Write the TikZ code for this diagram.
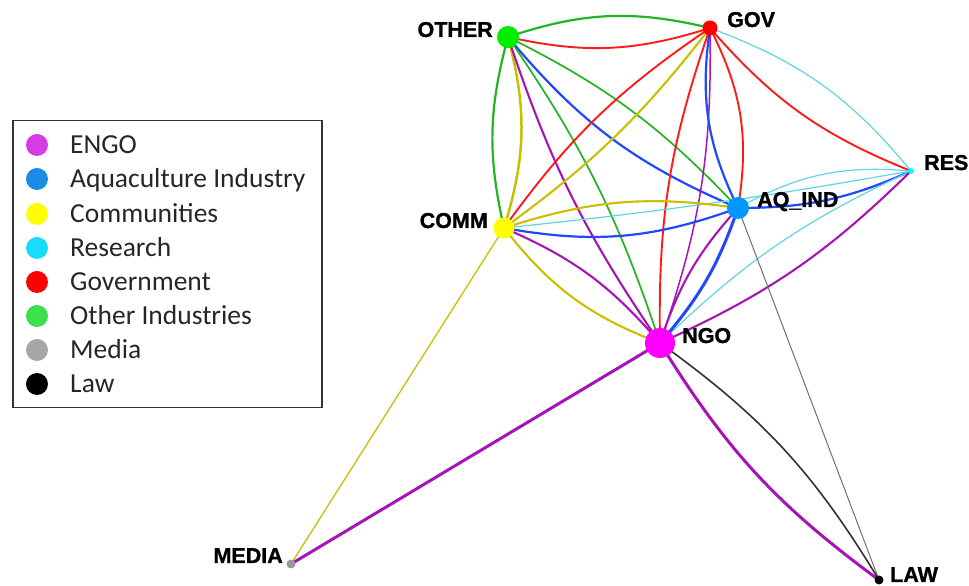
\documentclass[tikz,border=0pt]{standalone}
\usepackage{fontspec}
\setmainfont{Liberation Sans}
\newfontfamily\legendfont{Carlito}
\newfontfamily\actorfont{Liberation Sans Bold}[FakeBold=1.2]
\usetikzlibrary{backgrounds}

% node fills
\definecolor{cOther}{HTML}{00EE00}
\definecolor{cGov}{HTML}{FF0000}
\definecolor{cRes}{HTML}{00FFFF}
\definecolor{cAq}{HTML}{0096FF}
\definecolor{cComm}{HTML}{FFFF00}
\definecolor{cNgo}{HTML}{FF00FF}
\definecolor{cMedia}{HTML}{999999}
\definecolor{cLaw}{HTML}{000000}
% edge colours (by source group)
\definecolor{eGreen}{HTML}{22B422}
\definecolor{eRed}{HTML}{FF1A1A}
\definecolor{eYellow}{HTML}{C8C000}
\definecolor{eCyan}{HTML}{5CD6E0}
\definecolor{eBlue}{HTML}{1F48FF}
\definecolor{ePurple}{HTML}{A515B5}
\definecolor{eBlack}{HTML}{333333}
\definecolor{eGray}{HTML}{707070}
% legend swatches
\definecolor{lEngo}{HTML}{D63CE6}
\definecolor{lAqua}{HTML}{1A8BE6}
\definecolor{lComm}{HTML}{FFFF00}
\definecolor{lRes}{HTML}{1ADCFF}
\definecolor{lGov}{HTML}{FF0000}
\definecolor{lOther}{HTML}{3CE04A}
\definecolor{lMedia}{HTML}{A6A6A6}
\definecolor{lLaw}{HTML}{000000}

\tikzset{
  actor/.style={circle, inner sep=0pt, draw=none, minimum size=#1},
  lbl/.style={inner sep=0pt, font=\actorfont\fontsize{21.5}{22}\selectfont},
  eg/.style={draw=eGreen, line width=2.2pt},
  er/.style={draw=eRed, line width=1.9pt},
  ey/.style={draw=eYellow, line width=2.1pt},
  ec/.style={draw=eCyan, line width=1.2pt},
  eb/.style={draw=eBlue, line width=2.2pt},
  ep/.style={draw=ePurple, line width=2.1pt},
  ek/.style={draw=eBlack, line width=1.6pt},
  swatch/.style={circle, inner sep=0pt, minimum size=22pt, fill=#1},
  legtext/.style={anchor=base west, inner sep=0pt, text=black!85,
    font=\legendfont\fontsize{27.5}{28}\selectfont},
}

\begin{document}
\begin{tikzpicture}[x=1pt, y=1pt]
\useasboundingbox (0,0) rectangle (969,586);

% actors
\node[actor=22pt, fill=cOther] (other) at (508,549) {};
\node[actor=15pt, fill=cGov]   (gov)   at (710,558) {};
\node[actor=6pt,  fill=cRes]   (res)   at (911,415) {};
\node[actor=22pt, fill=cAq]    (aq)    at (738,378) {};
\node[actor=21pt, fill=cComm]  (comm)  at (504,358) {};
\node[actor=30pt, fill=cNgo]   (ngo)   at (660,243) {};
\node[actor=9pt,  fill=cMedia] (media) at (291,22)  {};
\node[actor=9pt,  fill=cLaw]   (law)   at (879,6)   {};

% actor labels
\node[lbl, anchor=base east] (tOther) at (493,549) {OTHER};
\node[lbl, anchor=base west] (tGov)   at (727,559) {GOV};
\node[lbl, anchor=base west] (tRes)   at (924,416) {RES};
\node[lbl, anchor=base west] (tAq)    at (757,379) {AQ\_IND};
\node[lbl, anchor=base east] (tComm)  at (488,358) {COMM};
\node[lbl, anchor=base west] (tNgo)   at (682,243) {NGO};
\node[lbl, anchor=base east] (tMedia) at (283,23)  {MEDIA};
\node[lbl, anchor=base west] (tLaw)   at (890,4)   {LAW};

% ties between actors
\begin{scope}[on background layer]
  % OTHER
  \draw[eg] (other.center) to[bend left=16] (gov.center);
  \draw[er] (gov.center) to[bend left=15] (other.center);
  \draw[eg] (other.center) to[bend right=14] (comm.center);
  \draw[ey, line width=2.5pt] (comm.center) to[bend right=16] (other.center);
  \draw[eb] (other.center) to[bend right=13.5] (aq.center);
  \draw[eg, line width=1.7pt] (other.center) to[bend left=10] (aq.center);
  \draw[ep] (other.center) to[bend right=8] (ngo.center);
  \draw[eg, line width=1.7pt] (other.center) to[bend left=8] (ngo.center);
  % GOV
  \draw[er] (gov.center) to[bend right=10] (comm.center);
  \draw[ey] (gov.center) to[bend left=8] (comm.center);
  \draw[er] (gov.center) to[bend right=10] (ngo.center);
  \draw[ep, line width=1.5pt] (gov.center) to[bend left=10] (ngo.center);
  \draw[er] (gov.center) to[bend left=18] (aq.center);
  \draw[eb] (gov.center) to[bend right=17] (aq.center);
  \draw[er] (gov.center) to[bend right=13.5] (res.center);
  \draw[ec] (gov.center) to[bend left=15] (res.center);
  % RES
  \draw[ec] (aq.center) to[bend left=17] (res.center);
  \draw[eb] (aq.center) to[bend right=12] (res.center);
  \draw[ec] (comm.center) to[bend right=2] (res.center);
  \draw[ec] (ngo.center) to[bend left=9.5] (res.center);
  \draw[ep] (ngo.center) to[bend right=10] (res.center);
  % COMM and AQ_IND
  \draw[eb] (comm.center) to[bend right=15] (aq.center);
  \draw[ey] (comm.center) to[bend left=13] (aq.center);
  \draw[eb, line width=3pt] (ngo.center) to[bend right=11] (aq.center);
  \draw[ep] (ngo.center) to[bend left=12] (aq.center);
  \draw[eGray, line width=1pt] (aq.center) -- (law.center);
  \draw[ey, line width=1.3pt] (comm.center) -- (media.center);
  \draw[ey] (comm.center) to[bend right=15.5] (ngo.center);
  \draw[ep] (comm.center) to[bend left=13] (ngo.center);
  % NGO
  \draw[ep, line width=3pt] (ngo.center) -- (media.center);
  \draw[ep, line width=3pt] (ngo.center) to[bend right=11] (law.center);
  \draw[ek] (ngo.center) to[bend left=11.5] (law.center);
\end{scope}

% legend
\node[draw=black!80, line width=1.5pt, inner sep=0pt, minimum width=309pt,
      minimum height=287pt, anchor=north west] (legend) at (12,466) {};
\node[swatch=lEngo]  (s1) at (37,441) {};
\node[swatch=lAqua]  (s2) at (37,407) {};
\node[swatch=lComm]  (s3) at (37,372) {};
\node[swatch=lRes]   (s4) at (37,338) {};
\node[swatch=lGov]   (s5) at (37,304) {};
\node[swatch=lOther] (s6) at (37,270) {};
\node[swatch=lMedia] (s7) at (37,236) {};
\node[swatch=lLaw]   (s8) at (37,202) {};
\node[legtext] (g1) at (70,432) {ENGO};
\node[legtext] (g2) at (70,398) {Aquaculture Industry};
\node[legtext] (g3) at (70,363) {Communities};
\node[legtext] (g4) at (70,329) {Research};
\node[legtext] (g5) at (70,295) {Government};
\node[legtext] (g6) at (70,261) {Other Industries};
\node[legtext] (g7) at (70,227) {Media};
\node[legtext] (g8) at (70,193) {Law};
\end{tikzpicture}
\end{document}
